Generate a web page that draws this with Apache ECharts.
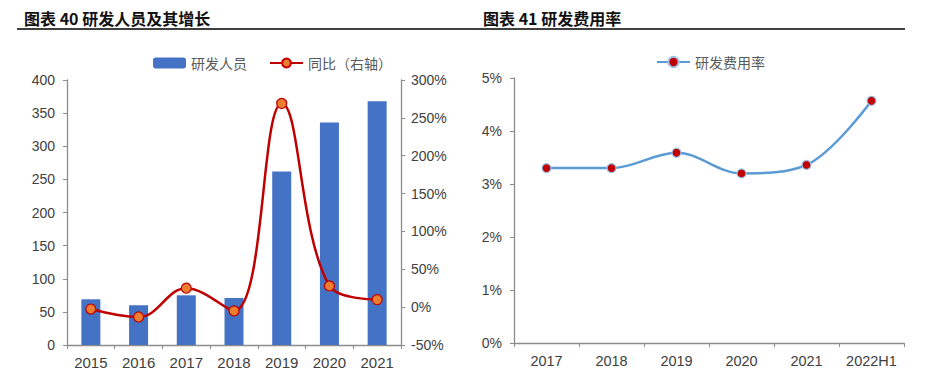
<!DOCTYPE html>
<html>
<head>
<meta charset="utf-8">
<script src="https://cdn.jsdelivr.net/npm/echarts@6/dist/echarts.min.js"></script>
<style>
html,body{margin:0;padding:0;background:#fff;}
#c{width:929px;height:379px;}
</style>
</head>
<body>
<div id="c"></div>
<script>
// ---- data ----
const years1 = ['2015', '2016', '2017', '2018', '2019', '2020', '2021'];
const staff = [69, 60, 75, 71, 262, 336, 368];          // 研发人员
const yoy = [-2.5, -13, 25, -5, 269, 28, 10];            // 同比（右轴）, %
const years2 = ['2017', '2018', '2019', '2020', '2021', '2022H1'];
const rdRate = [3.30, 3.30, 3.59, 3.20, 3.36, 4.57];     // 研发费用率, %
const title1 = '图表 40 研发人员及其增长';
const title2 = '图表 41 研发费用率';
const leftAxis1 = [0, 400, 50];
const rightAxis1 = [-50, 300, 50];
const axis2 = [0, 5, 1];

const lblFont = 'Liberation Sans, Arial, sans-serif';
const cjk = 'Noto Sans CJK SC';
const axisGray = '#8c8c8c';
const lblColor = '#404040';

const chart = echarts.init(document.getElementById('c'), null, {renderer: 'svg'});
chart.setOption({
  animation: false,
  backgroundColor: '#fff',
  title: [
    {text: title1, left: 19, top: 5, textStyle: {fontFamily: cjk, fontSize: 16, fontWeight: 'bold', color: '#111'}},
    {text: title2, left: 478, top: 5, textStyle: {fontFamily: cjk, fontSize: 16, fontWeight: 'bold', color: '#111'}}
  ],
  graphic: [
    {type: 'line', shape: {x1: 17, y1: 29, x2: 905, y2: 29}, style: {stroke: '#000', lineWidth: 1.3}}
  ],
  legend: [
    {
      data: ['研发人员', '同比（右轴）'], left: 148, top: 51, itemGap: 22,
      itemWidth: 33, itemHeight: 11,
      textStyle: {fontFamily: cjk, fontSize: 14, color: '#595959'}
    },
    {
      data: ['研发费用率'], left: 651, top: 50,
      itemWidth: 33, itemHeight: 13,
      textStyle: {fontFamily: cjk, fontSize: 14, color: '#595959'}
    }
  ],
  grid: [
    {left: 67, right: 528, top: 80, bottom: 34, containLabel: false},
    {left: 514, right: 25, top: 78, bottom: 36, containLabel: false}
  ],
  xAxis: [
    {
      type: 'category', data: years1, gridIndex: 0, boundaryGap: true,
      axisLine: {lineStyle: {color: axisGray, width: 1.3}},
      axisTick: {show: true, length: 4, interval: 0, lineStyle: {color: axisGray}},
      axisLabel: {fontFamily: lblFont, fontSize: 15, color: lblColor, margin: 10, interval: 0}
    },
    {
      type: 'category', data: years2, gridIndex: 1, boundaryGap: true,
      axisLine: {lineStyle: {color: axisGray, width: 1.3}},
      axisTick: {show: true, length: 4, interval: 0, lineStyle: {color: axisGray}},
      axisLabel: {fontFamily: lblFont, fontSize: 14.5, color: lblColor, margin: 10, interval: 0}
    }
  ],
  yAxis: [
    {
      type: 'value', gridIndex: 0, min: leftAxis1[0], max: leftAxis1[1], interval: leftAxis1[2],
      axisLine: {show: true, lineStyle: {color: axisGray, width: 1.3}},
      axisTick: {show: true, length: 4, lineStyle: {color: axisGray}},
      splitLine: {show: false},
      axisLabel: {fontFamily: lblFont, fontSize: 14, color: lblColor, margin: 12}
    },
    {
      type: 'value', gridIndex: 0, position: 'right', min: rightAxis1[0], max: rightAxis1[1], interval: rightAxis1[2],
      axisLine: {show: true, lineStyle: {color: axisGray, width: 1.3}},
      axisTick: {show: true, length: 4, lineStyle: {color: axisGray}},
      splitLine: {show: false},
      axisLabel: {fontFamily: lblFont, fontSize: 14, color: lblColor, margin: 10, formatter: v => v + '%'}
    },
    {
      type: 'value', gridIndex: 1, min: axis2[0], max: axis2[1], interval: axis2[2],
      axisLine: {show: true, lineStyle: {color: axisGray, width: 1.3}},
      axisTick: {show: true, length: 4, lineStyle: {color: axisGray}},
      splitLine: {show: false},
      axisLabel: {fontFamily: lblFont, fontSize: 14, color: lblColor, margin: 12, formatter: v => v + '%'}
    }
  ],
  series: [
    {
      name: '研发人员', type: 'bar', xAxisIndex: 0, yAxisIndex: 0, data: staff,
      barWidth: 19, itemStyle: {color: '#4472C4'}
    },
    {
      name: '同比（右轴）', type: 'line', xAxisIndex: 0, yAxisIndex: 1, data: yoy,
      smooth: 0.4, symbol: 'circle', symbolSize: 10,
      lineStyle: {color: '#C00000', width: 2.5},
      itemStyle: {color: '#ED7D31', borderColor: '#C00000', borderWidth: 1.2}
    },
    {
      name: '研发费用率', type: 'line', xAxisIndex: 1, yAxisIndex: 2, data: rdRate,
      smooth: 0.35, symbol: 'circle', symbolSize: 9,
      lineStyle: {color: '#5B9BD5', width: 2.5},
      itemStyle: {color: '#C00000', borderColor: '#9DC3E6', borderWidth: 1.2}
    }
  ]
});
</script>
</body>
</html>
